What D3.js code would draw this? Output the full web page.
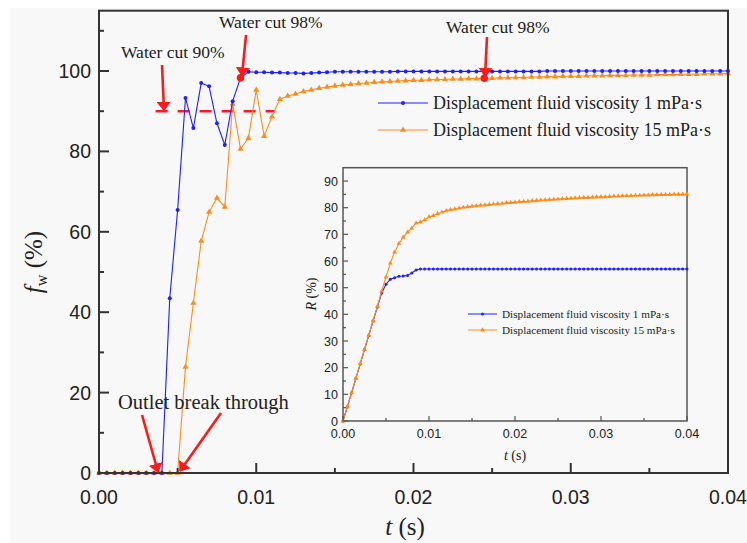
<!DOCTYPE html>
<html>
<head>
<meta charset="utf-8">
<script src="https://cdn.jsdelivr.net/npm/d3@7"></script>
<style>
  body { margin: 0; background: #fff; }
  svg { display: block; }
</style>
</head>
<body>
<div id="chart"></div>
<script>
"use strict";

// time grid (s), one sample every 0.0005 s
var timeSteps = [
  0.0000, 0.0005, 0.0010, 0.0015, 0.0020, 0.0025, 0.0030, 0.0035, 0.0040, 0.0045,
  0.0050, 0.0055, 0.0060, 0.0065, 0.0070, 0.0075, 0.0080, 0.0085, 0.0090, 0.0095,
  0.0100, 0.0105, 0.0110, 0.0115, 0.0120, 0.0125, 0.0130, 0.0135, 0.0140, 0.0145,
  0.0150, 0.0155, 0.0160, 0.0165, 0.0170, 0.0175, 0.0180, 0.0185, 0.0190, 0.0195,
  0.0200, 0.0205, 0.0210, 0.0215, 0.0220, 0.0225, 0.0230, 0.0235, 0.0240, 0.0245,
  0.0250, 0.0255, 0.0260, 0.0265, 0.0270, 0.0275, 0.0280, 0.0285, 0.0290, 0.0295,
  0.0300, 0.0305, 0.0310, 0.0315, 0.0320, 0.0325, 0.0330, 0.0335, 0.0340, 0.0345,
  0.0350, 0.0355, 0.0360, 0.0365, 0.0370, 0.0375, 0.0380, 0.0385, 0.0390, 0.0395,
  0.0400
];

// water cut fw (%)
var fwVisc1 = [
  0, 0, 0, 0, 0, 0, 0, 0, 0, 43.5,
  65.4, 93.3, 85.8, 97.0, 96.2, 87.0, 81.6, 92.5, 98.3, 99.8,
  99.7, 99.7, 99.6, 99.6, 99.5, 99.5, 99.4, 99.5, 99.6, 99.7,
  99.8, 99.8, 99.8, 99.8, 99.8, 99.8, 99.8, 99.8, 99.9, 99.9,
  99.9, 99.9, 99.9, 99.9, 99.9, 99.9, 99.9, 99.9, 99.9, 99.9,
  99.9, 99.9, 99.9, 99.9, 99.9, 99.9, 99.9, 100, 100, 100,
  100, 100, 100, 100, 100, 100, 100, 100, 100, 100,
  100, 100, 100, 100, 100, 100, 100, 100, 100, 100,
  100
];
var fwVisc15 = [
  0, 0, 0, 0, 0, 0, 0, 0, 0, 0,
  0, 26.4, 42.3, 57.7, 64.9, 68.4, 66.2, 91.8, 80.6, 83.3,
  95.3, 83.8, 88.6, 93.0, 93.8, 94.3, 94.9, 95.3, 95.7, 96.0,
  96.3, 96.5, 96.7, 96.9, 97.0, 97.2, 97.3, 97.4, 97.5, 97.6,
  97.7, 97.7, 97.8, 97.9, 97.9, 98.0, 98.0, 98.1, 98.1, 98.2,
  98.2, 98.3, 98.3, 98.4, 98.4, 98.5, 98.5, 98.6, 98.6, 98.7,
  98.7, 98.7, 98.8, 98.8, 98.8, 98.9, 98.9, 98.9, 99.0, 99.0,
  99.0, 99.1, 99.1, 99.1, 99.2, 99.2, 99.2, 99.3, 99.3, 99.3,
  99.4
];

// recovery R (%) for the inset
var rVisc1 = [
  0, 5.3, 10.6, 16.0, 21.4, 26.8, 32.1, 37.5, 42.8, 48.0,
  51.3, 53.2, 53.7, 54.3, 54.4, 54.6, 55.5, 56.6, 57.0, 57.0,
  57.0, 57.0, 57.0, 57.0, 57.0, 57.0, 57.0, 57.0, 57.0, 57.0,
  57.0, 57.0, 57.0, 57.0, 57.0, 57.0, 57.0, 57.0, 57.0, 57.0,
  57.0, 57.0, 57.0, 57.0, 57.0, 57.0, 57.0, 57.0, 57.0, 57.0,
  57.0, 57.0, 57.0, 57.0, 57.0, 57.0, 57.0, 57.0, 57.0, 57.0,
  57.0, 57.0, 57.0, 57.0, 57.0, 57.0, 57.0, 57.0, 57.0, 57.0,
  57.0, 57.0, 57.0, 57.0, 57.0, 57.0, 57.0, 57.0, 57.0, 57.0,
  57.0
];
var rVisc15 = [
  0, 5.3, 10.6, 16.0, 21.5, 26.9, 32.2, 37.6, 43.0, 48.7,
  54.0, 59.2, 63.3, 66.6, 68.9, 70.8, 72.3, 74.2, 74.6, 75.4,
  76.6, 77.0, 77.8, 78.3, 78.8, 79.2, 79.5, 79.8, 80.1, 80.3,
  80.5, 80.7, 80.9, 81.0, 81.2, 81.3, 81.5, 81.6, 81.8, 81.9,
  82.0, 82.2, 82.3, 82.4, 82.6, 82.7, 82.8, 82.9, 83.0, 83.1,
  83.2, 83.3, 83.4, 83.5, 83.6, 83.7, 83.8, 83.8, 83.9, 84.0,
  84.1, 84.1, 84.2, 84.3, 84.3, 84.4, 84.5, 84.5, 84.6, 84.6,
  84.7, 84.7, 84.8, 84.8, 84.9, 84.9, 84.9, 85.0, 85.0, 85.0,
  85.1
];

var mainXTicks = [0, 0.01, 0.02, 0.03, 0.04];
var mainYTicks = [0, 20, 40, 60, 80, 100];
var insetXTicks = [0, 0.01, 0.02, 0.03, 0.04];
var insetYTicks = [0, 10, 20, 30, 40, 50, 60, 70, 80, 90];
var legendLabels = ["Displacement fluid viscosity 1 mPa\u00b7s", "Displacement fluid viscosity 15 mPa\u00b7s"];

var BLUE = "#1f1fff", ORANGE = "#ff8c1a", RED = "#ff1a1a";
var SERIF = "'Liberation Serif', 'Times New Roman', serif";
var SANS = "'Liberation Sans', Arial, sans-serif";

var svg = d3.select("#chart").append("svg")
    .attr("width", 747)
    .attr("height", 543);

svg.append("rect").attr("x", 10).attr("y", 8).attr("width", 737).attr("height", 535).attr("fill", "#f8f8f8");

var defs = svg.append("defs");
defs.append("marker")
    .attr("id", "arrowhead")
    .attr("viewBox", "0 0 10 10")
    .attr("refX", 9).attr("refY", 5)
    .attr("markerWidth", 3.6).attr("markerHeight", 5.5)
    .attr("markerUnits", "strokeWidth")
    .attr("orient", "auto")
    .attr("preserveAspectRatio", "none")
    .append("path").attr("d", "M0,0 L10,5 L0,10 z").attr("fill", RED);

var triangle = d3.symbol().type(d3.symbolTriangle);

// ---------- main chart ----------
var x = d3.scaleLinear().domain([0, 0.04]).range([99, 728]);
var y = d3.scaleLinear().domain([0, 115]).range([473, 10.7]);

function drawSeries(g, xs, ys, values, color, marker, r, triSize) {
  var pts = timeSteps.map(function(t, i){ return [t, values[i]]; });
  g.append("path")
      .datum(pts)
      .attr("fill", "none")
      .attr("stroke", color)
      .attr("stroke-width", 1.1)
      .attr("d", d3.line().x(function(d){ return xs(d[0]); }).y(function(d){ return ys(d[1]); }));
  if (marker === "circle") {
    g.selectAll(null).data(pts).enter().append("circle")
        .attr("cx", function(d){ return xs(d[0]); })
        .attr("cy", function(d){ return ys(d[1]); })
        .attr("r", r)
        .attr("fill", color);
  } else {
    g.selectAll(null).data(pts).enter().append("path")
        .attr("d", triangle.size(triSize)())
        .attr("transform", function(d){ return "translate(" + xs(d[0]) + "," + ys(d[1]) + ")"; })
        .attr("fill", color);
  }
}

var main = svg.append("g");

// dashed 90% line
main.append("line")
    .attr("x1", x(0.0036)).attr("x2", x(0.0112))
    .attr("y1", y(90)).attr("y2", y(90))
    .attr("stroke", RED).attr("stroke-width", 2.5)
    .attr("stroke-dasharray", "12,10");

drawSeries(main, x, y, fwVisc15, ORANGE, "tri", 0, 16);
drawSeries(main, x, y, fwVisc1, BLUE, "circle", 2, 0);

// frame
main.append("rect")
    .attr("x", 99).attr("y", 10.7)
    .attr("width", 629).attr("height", 462.3)
    .attr("fill", "none").attr("stroke", "#333").attr("stroke-width", 2);

// x ticks (inward)
main.selectAll(null).data(d3.range(0, 0.0401, 0.005)).enter().append("line")
    .attr("x1", function(d){ return x(d); }).attr("x2", function(d){ return x(d); })
    .attr("y1", 473).attr("y2", function(d, i){ return i % 2 === 0 ? 463 : 468; })
    .attr("stroke", "#333").attr("stroke-width", 2);
main.selectAll(null).data(mainXTicks).enter().append("text")
    .attr("x", function(d){ return x(d); })
    .attr("y", 504)
    .attr("text-anchor", "middle")
    .attr("font-family", SANS).attr("font-size", 19.5)
    .attr("fill", "#222")
    .text(function(d){ return d3.format(".2f")(d); });

// y ticks (inward)
main.selectAll(null).data(d3.range(0, 111, 10)).enter().append("line")
    .attr("x1", 99).attr("x2", function(d){ return d % 20 === 0 ? 109 : 104; })
    .attr("y1", function(d){ return y(d); }).attr("y2", function(d){ return y(d); })
    .attr("stroke", "#333").attr("stroke-width", 2);
main.selectAll(null).data(mainYTicks).enter().append("text")
    .attr("x", 91)
    .attr("y", function(d){ return y(d) + 7; })
    .attr("text-anchor", "end")
    .attr("font-family", SANS).attr("font-size", 19.5)
    .attr("fill", "#222")
    .text(function(d){ return d; });

// axis titles
var yTitle = main.append("text")
    .attr("transform", "translate(42,262) rotate(-90)")
    .attr("text-anchor", "middle")
    .attr("font-family", SERIF).attr("font-size", 25)
    .attr("fill", "#222");
yTitle.append("tspan").attr("font-style", "italic").text("f");
yTitle.append("tspan").attr("font-size", 16).attr("dy", 5).text("w");
yTitle.append("tspan").attr("dy", -5).text(" (%)");

var xTitle = main.append("text")
    .attr("x", 405).attr("y", 535)
    .attr("text-anchor", "middle")
    .attr("font-family", SERIF).attr("font-size", 25)
    .attr("fill", "#222");
xTitle.append("tspan").attr("font-style", "italic").text("t");
xTitle.append("tspan").text(" (s)");

// legend
var legend = main.append("g");
legendLabels.forEach(function(label, i){
  var ly = 103 + i * 27;
  var color = i === 0 ? BLUE : ORANGE;
  legend.append("line").attr("x1", 378).attr("x2", 428).attr("y1", ly).attr("y2", ly)
      .attr("stroke", color).attr("stroke-width", 1.2);
  if (i === 0) {
    legend.append("circle").attr("cx", 403).attr("cy", ly).attr("r", 2).attr("fill", color);
  } else {
    legend.append("path").attr("d", triangle.size(16)()).attr("transform", "translate(403," + ly + ")").attr("fill", color);
  }
  legend.append("text").attr("x", 433).attr("y", ly + 6)
      .attr("font-family", SERIF).attr("font-size", 18).attr("fill", "#222")
      .text(label);
});

// annotations
function arrow(x1, y1, x2, y2) {
  main.append("line")
      .attr("x1", x1).attr("y1", y1).attr("x2", x2).attr("y2", y2)
      .attr("stroke", RED).attr("stroke-width", 2.6)
      .attr("marker-end", "url(#arrowhead)");
}
function note(tx, ty, label, size) {
  main.append("text").attr("x", tx).attr("y", ty)
      .attr("font-family", SERIF).attr("font-size", size).attr("fill", "#222")
      .text(label);
}

note(121, 58, "Water cut 90%", 17.5);
arrow(162, 65, 164, y(90) - 1);

note(219, 28, "Water cut 98%", 17.5);
main.append("circle").attr("cx", x(0.009)).attr("cy", y(fwVisc1[18])).attr("r", 3.8).attr("fill", RED);
arrow(246, 35, 242, y(fwVisc1[18]) - 2);

note(446, 33, "Water cut 98%", 17.5);
main.append("circle").attr("cx", x(0.0245)).attr("cy", y(fwVisc15[49])).attr("r", 3.8).attr("fill", RED);
arrow(487, 37, 485, y(fwVisc15[49]) - 2);

note(118, 409, "Outlet break through", 20.5);
arrow(142, 415, 158, 472);
arrow(221, 413, 180, 471);

// ---------- inset ----------
var ix = d3.scaleLinear().domain([0, 0.04]).range([343, 687]);
var iy = d3.scaleLinear().domain([0, 95]).range([421, 167.7]);

var inset = svg.append("g");
inset.append("rect")
    .attr("x", 343).attr("y", 167.7).attr("width", 344).attr("height", 253.3)
    .attr("fill", "#f8f8f8").attr("stroke", "#555").attr("stroke-width", 1.5);

drawSeries(inset, ix, iy, rVisc1, BLUE, "circle", 1.5, 0);
drawSeries(inset, ix, iy, rVisc15, ORANGE, "tri", 0, 10);

inset.selectAll(null).data(d3.range(0, 0.0401, 0.005)).enter().append("line")
    .attr("x1", function(d){ return ix(d); }).attr("x2", function(d){ return ix(d); })
    .attr("y1", 421).attr("y2", function(d, i){ return i % 2 === 0 ? 416 : 418; })
    .attr("stroke", "#555").attr("stroke-width", 1.2);
inset.selectAll(null).data(insetXTicks).enter().append("text")
    .attr("x", function(d){ return ix(d); })
    .attr("y", 438)
    .attr("text-anchor", "middle")
    .attr("font-family", SANS).attr("font-size", 12.5)
    .attr("fill", "#222")
    .text(function(d){ return d3.format(".2f")(d); });

inset.selectAll(null).data(d3.range(0, 91, 5)).enter().append("line")
    .attr("x1", 343).attr("x2", function(d){ return d % 10 === 0 ? 348 : 346; })
    .attr("y1", function(d){ return iy(d); }).attr("y2", function(d){ return iy(d); })
    .attr("stroke", "#555").attr("stroke-width", 1.2);
inset.selectAll(null).data(insetYTicks).enter().append("text")
    .attr("x", 338)
    .attr("y", function(d){ return iy(d) + 4.5; })
    .attr("text-anchor", "end")
    .attr("font-family", SANS).attr("font-size", 12.5)
    .attr("fill", "#222")
    .text(function(d){ return d; });

var iyTitle = inset.append("text")
    .attr("transform", "translate(316,294) rotate(-90)")
    .attr("text-anchor", "middle")
    .attr("font-family", SERIF).attr("font-size", 14)
    .attr("fill", "#222");
iyTitle.append("tspan").attr("font-style", "italic").text("R");
iyTitle.append("tspan").text(" (%)");

var ixTitle = inset.append("text")
    .attr("x", 515).attr("y", 460)
    .attr("text-anchor", "middle")
    .attr("font-family", SERIF).attr("font-size", 14)
    .attr("fill", "#222");
ixTitle.append("tspan").attr("font-style", "italic").text("t");
ixTitle.append("tspan").text(" (s)");

legendLabels.forEach(function(label, i){
  var ly = 314 + i * 16;
  var color = i === 0 ? BLUE : ORANGE;
  inset.append("line").attr("x1", 468).attr("x2", 497).attr("y1", ly).attr("y2", ly)
      .attr("stroke", color).attr("stroke-width", 1);
  if (i === 0) {
    inset.append("circle").attr("cx", 482.5).attr("cy", ly).attr("r", 1.5).attr("fill", color);
  } else {
    inset.append("path").attr("d", triangle.size(10)()).attr("transform", "translate(482.5," + ly + ")").attr("fill", color);
  }
  inset.append("text").attr("x", 502).attr("y", ly + 4)
      .attr("font-family", SERIF).attr("font-size", 11.2).attr("fill", "#222")
      .text(label);
});
</script>
</body>
</html>
